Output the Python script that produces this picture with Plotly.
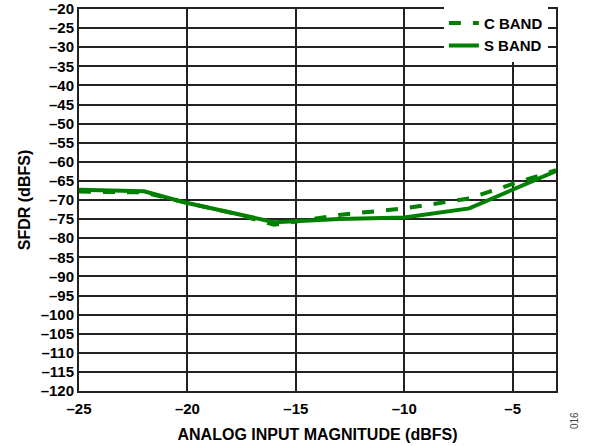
import plotly.graph_objects as go

x_c = [-25, -22, -20, -18, -16, -13, -10, -7, -5, -3]
y_c = [-67.8, -68.0, -70.8, -73.3, -76.5, -73.9, -72.2, -69.6, -65.8, -62.2]
x_s = [-25, -22, -20, -18, -16, -13, -10, -7, -5, -3]
y_s = [-67.3, -67.7, -70.8, -73.2, -75.8, -75.0, -74.6, -72.2, -67.4, -62.4]

x_ticks = [-25, -20, -15, -10, -5]
y_ticks = list(range(-120, -15, 5))

green = "#008000"
font_name = "Liberation Sans, Arial, sans-serif"

fig = go.Figure()
fig.add_trace(go.Scatter(x=x_c, y=y_c, mode="lines", name="C BAND",
                         line=dict(color=green, width=4, dash="dash")))
fig.add_trace(go.Scatter(x=x_s, y=y_s, mode="lines", name="S BAND",
                         line=dict(color=green, width=4)))

fig.update_layout(
    width=597, height=446,
    margin=dict(l=79, r=41, t=9, b=55, autoexpand=False),
    paper_bgcolor="white", plot_bgcolor="white",
    font=dict(family=font_name, size=15, color="black", weight="bold"),
    showlegend=True,
    legend=dict(x=0.983, y=0.934, xanchor="right", yanchor="middle",
                bgcolor="white", borderwidth=0,
                font=dict(size=15, weight="bold"),
                tracegroupgap=0, itemwidth=30),
)
fig.update_xaxes(range=[-25, -3], tickvals=x_ticks,
                 ticktext=[f"–{abs(v)}" for v in x_ticks],
                 showgrid=True, gridcolor="#222", gridwidth=1.5,
                 showline=True, linecolor="#222", linewidth=2, mirror=True,
                 ticks="", zeroline=False, automargin=False,
                 tickfont=dict(size=15), ticklabelstandoff=3,
                 ticklabeloverflow="allow",
                 title=dict(text="ANALOG INPUT MAGNITUDE (dBFS)", standoff=13,
                            font=dict(size=16, weight="bold")))
fig.update_yaxes(range=[-120, -20], tickvals=y_ticks,
                 ticktext=[f"–{abs(v)}" for v in y_ticks],
                 showgrid=True, gridcolor="#222", gridwidth=1.5,
                 showline=True, linecolor="#222", linewidth=2, mirror=True,
                 ticks="", zeroline=False, automargin=False,
                 tickfont=dict(size=15), ticklabeloverflow="allow",
                 title=dict(text="SFDR (dBFS)", standoff=6,
                            font=dict(size=16, weight="bold")))
fig.add_annotation(text="016", xref="paper", yref="paper", x=1.0545, y=-0.105,
                   showarrow=False, textangle=-90,
                   font=dict(size=10, color="#444", weight="normal"))

fig.write_html("out.html", config={"displayModeBar": False},
               post_script="document.body.style.margin='0';")
